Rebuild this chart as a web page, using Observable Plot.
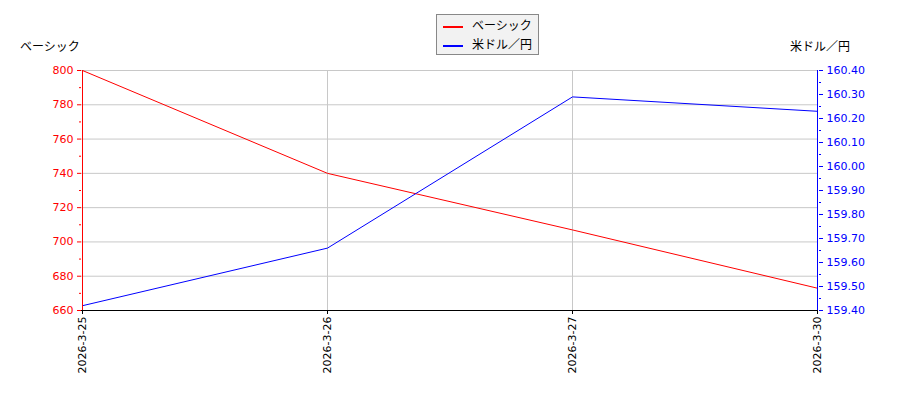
<!DOCTYPE html>
<html><head><meta charset="utf-8">
<script src="https://cdn.jsdelivr.net/npm/d3@7"></script>
<script src="https://cdn.jsdelivr.net/npm/@observablehq/plot@0.6"></script>
<style>
body{margin:0;background:#fff;font-family:"DejaVu Sans","Noto Sans CJK JP",sans-serif;}
#wrap{position:relative;width:900px;height:400px;}
#chart{position:absolute;left:0;top:0;}
.lbl{position:absolute;font-size:12px;font-family:"Noto Sans CJK JP","DejaVu Sans",sans-serif;color:#000;}
#legend{position:absolute;left:436px;top:14px;width:103px;height:41px;background:#f2f2f2;border:1px solid #888;box-sizing:border-box;font-size:12px;font-family:"Noto Sans CJK JP",sans-serif;}
#legend .row{position:absolute;left:6px;height:18px;line-height:18px;}
#legend .sw{display:inline-block;width:20px;height:2px;vertical-align:middle;margin-right:9px;}
</style></head>
<body><div id="wrap"><div id="chart"></div>
<div class="lbl" style="left:20px;top:37px;">ベーシック</div>
<div class="lbl" style="left:790px;top:37px;">米ドル／円</div>
<div id="legend">
<div class="row" style="top:1px;"><span class="sw" style="background:red"></span>ベーシック</div>
<div class="row" style="top:20px;"><span class="sw" style="background:blue"></span>米ドル／円</div>
</div>
</div>
<script>
const dates = ["2026-3-25","2026-3-26","2026-3-27","2026-3-30"];
const basic = [800, 740, 707, 673];
const usdjpy = [159.42, 159.66, 160.29, 160.23];
const leftTicks = [660,680,700,720,740,760,780,800];
const leftMinor = [670,690,710,730,750,770,790];
const rightTicks = [159.4,159.5,159.6,159.7,159.8,159.9,160.0,160.1,160.2,160.3,160.4];
const rightMinor = [159.45,159.55,159.65,159.75,159.85,159.95,160.05,160.15,160.25,160.35];

const L0=660,L1=800,R0=159.4,R1=160.4;
const toLeft = v => L0 + (v-R0)/(R1-R0)*(L1-L0);
const toRight = v => R0 + (v-L0)/(L1-L0)*(R1-R0);

const redData = dates.map((d,i)=>({d, v: basic[i]}));
const blueData = dates.map((d,i)=>({d, v: toLeft(usdjpy[i])}));

const plot = Plot.plot({
  width: 900, height: 400,
  marginLeft: 81, marginRight: 82, marginTop: 70, marginBottom: 90,
  style: {fontFamily: "DejaVu Sans, sans-serif", fontSize: "11px", background: "transparent"},
  x: {type: "point", domain: dates, padding: 0},
  y: {domain: [L0, L1]},
  marks: [
    Plot.ruleY(leftTicks, {stroke: "#c8c8c8", strokeWidth: 1}),
    Plot.ruleX(dates, {stroke: "#c8c8c8", strokeWidth: 1}),
    Plot.line(redData, {x: "d", y: "v", stroke: "red", strokeWidth: 1}),
    Plot.line(blueData, {x: "d", y: "v", stroke: "blue", strokeWidth: 1}),
    Plot.ruleX([dates[0]], {stroke: "red"}),
    Plot.ruleX([dates[dates.length-1]], {stroke: "blue"}),
    Plot.ruleY([L0], {stroke: "black"}),
    Plot.axisY({anchor: "left", ticks: leftTicks, tickSize: 4, tickPadding: 4, color: "red", label: null, tickFormat: d => d}),
    Plot.axisY({anchor: "left", ticks: leftMinor, tickSize: 2, color: "red", label: null, tickFormat: () => ""}),
    Plot.axisY({anchor: "right", ticks: rightTicks.map(toLeft), tickSize: 4, tickPadding: 4, color: "blue", label: null, tickFormat: d => toRight(d).toFixed(2)}),
    Plot.axisY({anchor: "right", ticks: rightMinor.map(toLeft), tickSize: 2, color: "blue", label: null, tickFormat: () => ""}),
    Plot.axisX({anchor: "bottom", ticks: dates, tickSize: 4, tickRotate: -90, tickPadding: 2, label: null, color: "black"})
  ]
});
document.getElementById("chart").appendChild(plot);
</script>
</body></html>
